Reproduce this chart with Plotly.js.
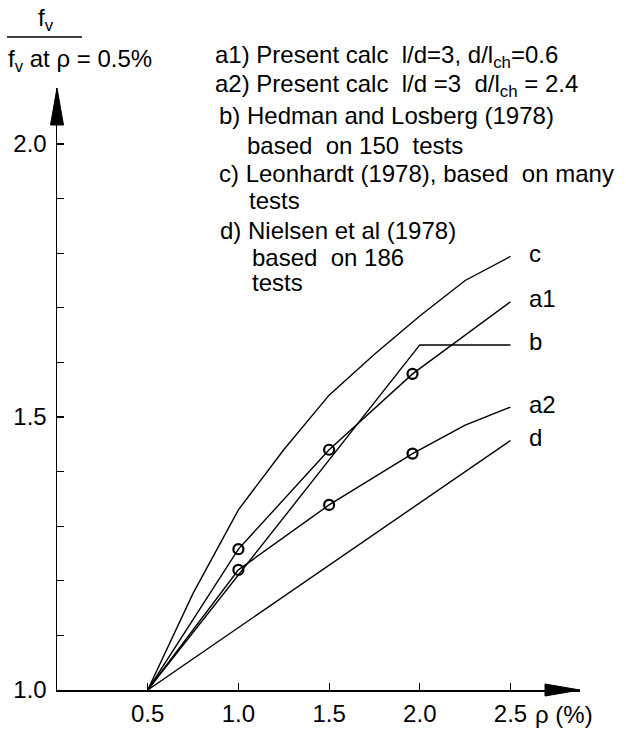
<!DOCTYPE html>
<html>
<head>
<meta charset="utf-8">
<script src="https://cdn.plot.ly/plotly-3.0.1.min.js"></script>
<style>html,body{margin:0;padding:0;background:#fff;}#chart{width:626px;height:733px;}</style>
</head>
<body>
<div id="chart"></div>
<script>
// ---- data ----
const seriesNames = ['c', 'a1', 'b', 'a2', 'd'];
const cX  = [0.5, 0.75, 1.0, 1.25, 1.5, 1.75, 2.0, 2.25, 2.5];
const cY  = [1.0, 1.177, 1.33, 1.44, 1.54, 1.615, 1.685, 1.75, 1.794];
const a1X = [0.5, 1.0, 1.5, 1.96, 2.5];
const a1Y = [1.0, 1.258, 1.44, 1.579, 1.711];
const bX  = [0.5, 2.0, 2.5];
const bY  = [1.0, 1.632, 1.632];
const a2X = [0.5, 1.0, 1.5, 1.96, 2.25, 2.5];
const a2Y = [1.0, 1.22, 1.339, 1.433, 1.485, 1.518];
const dX  = [0.5, 2.5];
const dY  = [1.0, 1.457];
// calculated points (circles)
const a1PtsX = [1.0, 1.5, 1.96];
const a1PtsY = [1.258, 1.44, 1.579];
const a2PtsX = [1.0, 1.5, 1.96];
const a2PtsY = [1.22, 1.339, 1.433];
// ticks
const xTickVals = [0.5, 1.0, 1.5, 2.0, 2.5];
const xTickText = ['0.5', '1.0', '1.5', '2.0', '2.5'];
const yTickVals = [1.0, 1.5, 2.0];
const yTickText = ['1.0', '1.5', '2.0'];
const yMinorTickVals = [1.1, 1.2, 1.3, 1.4, 1.6, 1.7, 1.8, 1.9];
const legendLines = [
  'a1) Present calc  l/d=3, d/l<sub>ch</sub>=0.6',
  'a2) Present calc  l/d =3  d/l<sub>ch</sub> = 2.4',
  'b) Hedman and Losberg (1978)',
  'based  on 150  tests',
  'c) Leonhardt (1978), based  on many',
  'tests',
  'd) Nielsen et al (1978)',
  'based  on 186',
  'tests'
];

// ---- layout geometry ----
const W = 626, H = 733;
const M = {l: 57, r: 46, t: 88, b: 43};
const PW = W - M.l - M.r, PH = H - M.t - M.b;
const px = x => (x - M.l) / PW;
const py = y => (H - M.b - y) / PH;
const FONT = 'Liberation Sans, Arial, sans-serif';
const FS = 24;

const lineStyle = {color: '#000', width: 1.4};
const traces = [
  {x: cX, y: cY, mode: 'lines', line: lineStyle, name: 'c'},
  {x: a1X, y: a1Y, mode: 'lines', line: lineStyle, name: 'a1'},
  {x: bX, y: bY, mode: 'lines', line: lineStyle, name: 'b'},
  {x: a2X, y: a2Y, mode: 'lines', line: lineStyle, name: 'a2'},
  {x: dX, y: dY, mode: 'lines', line: lineStyle, name: 'd'},
  {x: a1PtsX, y: a1PtsY, mode: 'markers', marker: {symbol: 'circle-open', size: 10, color: '#000', line: {width: 2.2, color: '#000'}}},
  {x: a2PtsX, y: a2PtsY, mode: 'markers', marker: {symbol: 'circle-open', size: 10, color: '#000', line: {width: 2.2, color: '#000'}}}
];

const ends = [[cX, cY], [a1X, a1Y], [bX, bY], [a2X, a2Y], [dX, dY]];
const annotations = seriesNames.map((n, i) => ({
  x: ends[i][0][ends[i][0].length - 1], y: ends[i][1][ends[i][1].length - 1],
  xref: 'x', yref: 'y', text: n, showarrow: false,
  xanchor: 'left', yanchor: 'middle', xshift: 16, yshift: 3,
  font: {family: FONT, size: FS, color: '#000'}
}));

const legPos = [[213,57],[213,85],[217,115],[245,145],[217,173],[247,200],[218,230],[250,257],[250,282]];
legendLines.forEach((t, i) => annotations.push({
  x: px(legPos[i][0]), y: py(legPos[i][1]), xref: 'paper', yref: 'paper',
  text: t, showarrow: false, xanchor: 'left', yanchor: 'middle',
  font: {family: FONT, size: FS, color: '#000'}
}));

// y-axis title as fraction
annotations.push({x: px(46), y: py(19), xref: 'paper', yref: 'paper', text: 'f<sub>v</sub>',
  showarrow: false, xanchor: 'center', yanchor: 'middle', font: {family: FONT, size: FS, color: '#000'}});
annotations.push({x: px(6), y: py(61), xref: 'paper', yref: 'paper', text: 'f<sub>v</sub> at ρ = 0.5%',
  showarrow: false, xanchor: 'left', yanchor: 'middle', font: {family: FONT, size: FS, color: '#000'}});
// x-axis unit
annotations.push({x: 2.5, y: 1.0, xref: 'x', yref: 'y', text: 'ρ (%)', showarrow: false,
  xanchor: 'left', yanchor: 'middle', xshift: 22, yshift: -24, font: {family: FONT, size: FS, color: '#000'}});

const shapes = [
  // fraction bar
  {type: 'line', xref: 'paper', yref: 'paper', x0: px(7), x1: px(82), y0: py(37), y1: py(37), line: {color: '#000', width: 1.6}},
  // y axis arrowhead
  {type: 'path', xref: 'paper', yref: 'paper', path:
    `M ${px(57)} ${py(88)} L ${px(50.5)} ${py(125)} L ${px(63.5)} ${py(125)} Z`, fillcolor: '#000', line: {color: '#000', width: 1}},
  // x axis arrowhead
  {type: 'path', xref: 'paper', yref: 'paper', path:
    `M ${px(580)} ${py(690)} L ${px(545)} ${py(684)} L ${px(545)} ${py(696)} Z`, fillcolor: '#000', line: {color: '#000', width: 1}}
];

const layout = {
  width: W, height: H, margin: M, showlegend: false,
  paper_bgcolor: '#fff', plot_bgcolor: '#fff',
  font: {family: FONT, size: FS, color: '#000'},
  xaxis: {range: [0, PW / 181.4], showgrid: false, zeroline: false, showline: true, linecolor: '#000', linewidth: 1.5,
    ticks: 'inside', ticklen: 7, tickwidth: 1.2, tickcolor: '#000', tickmode: 'array', tickvals: xTickVals, ticktext: xTickText,
    tickfont: {family: FONT, size: FS, color: '#000'}, ticklabelstandoff: 2, fixedrange: true},
  yaxis: {range: [1.0, 1.0 + PH / 546], showgrid: false, zeroline: false, showline: true, linecolor: '#000', linewidth: 1.5,
    ticks: 'inside', ticklen: 7, tickwidth: 1.2, tickcolor: '#000', tickmode: 'array', tickvals: yTickVals, ticktext: yTickText,
    minor: {tickmode: 'array', tickvals: yMinorTickVals, ticks: 'inside', ticklen: 7, tickwidth: 1.2, tickcolor: '#000', showgrid: false},
    tickfont: {family: FONT, size: FS, color: '#000'}, ticklabelstandoff: 4, fixedrange: true},
  annotations: annotations, shapes: shapes
};

Plotly.newPlot('chart', traces, layout, {displayModeBar: false, staticPlot: true});
</script>
</body>
</html>
